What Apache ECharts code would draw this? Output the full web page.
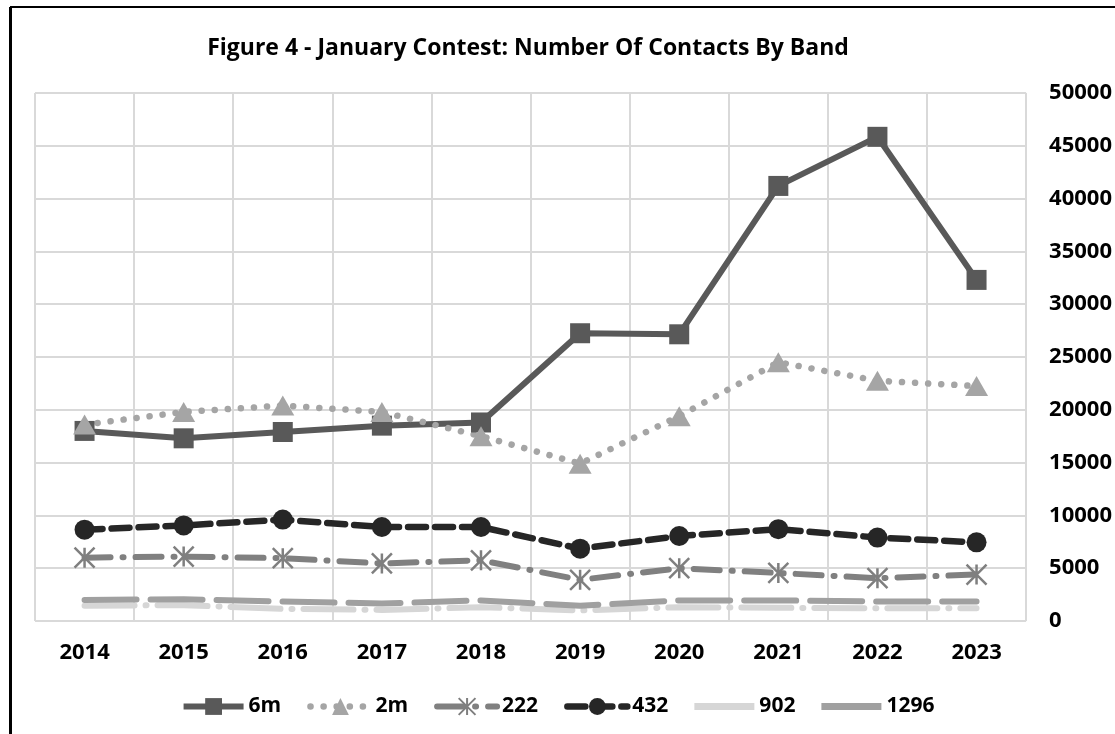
<!DOCTYPE html>
<html>
<head>
<meta charset="utf-8">
<script src="https://cdn.jsdelivr.net/npm/echarts@6/dist/echarts.min.js"></script>
<style>
html,body{margin:0;padding:0;background:#fff;}
#chart{width:1115px;height:734px;}
</style>
</head>
<body>
<div id="chart"></div>
<script>
var years = ['2014','2015','2016','2017','2018','2019','2020','2021','2022','2023'];
var band6m   = [18000,17300,17900,18500,18800,27250,27150,41200,45850,32300];
var band2m   = [18600,19800,20400,19800,17500,14900,19400,24500,22750,22250];
var band222  = [6000,6100,5950,5450,5750,3900,5000,4550,4050,4400];
var band432  = [8650,9050,9600,8900,8900,6850,8050,8700,7900,7450];
var band902  = [1450,1500,1150,1050,1300,1000,1300,1250,1200,1200];
var band1296 = [2000,2050,1850,1650,1950,1450,1950,1950,1850,1850];
var legendNames = ['6m','2m','222','432','902','1296'];

var FONT = 'Open Sans';
var chart = echarts.init(document.getElementById('chart'));
var asterisk = 'path://M0,0L20,20M20,0L0,20M10,0L10,20';
var bar = 'path://M0,0H60V7H0Z';

chart.setOption({
  animation:false,
  backgroundColor:'#ffffff',
  title:{
    text:'Figure 4 - January Contest: Number Of Contacts By Band',
    left:523, top:32, textAlign:'center',
    textStyle:{fontFamily:FONT, fontWeight:'bold', fontSize:23, color:'#000'}
  },
  graphic:[
    {type:'rect', shape:{x:11,y:7,width:1200,height:800}, style:{fill:'none',stroke:'#000',lineWidth:2}, z:-1},
    {type:'rect', shape:{x:9,y:7,width:3,height:800}, style:{fill:'#000'}, z:-1}
  ],
  legend:{
    bottom:12, left:'center',
    itemWidth:60, itemHeight:21, itemGap:26,
    symbolKeepAspect:true,
    lineStyle:{width:'inherit'},
    textStyle:{fontFamily:FONT, fontWeight:'bold', fontSize:21, color:'#000'},
    data:[
      {name:legendNames[0]},
      {name:legendNames[1]},
      {name:legendNames[2]},
      {name:legendNames[3]},
      {name:legendNames[4], icon:bar},
      {name:legendNames[5], icon:bar}
    ]
  },
  grid:{left:35, right:85, top:93, bottom:113, containLabel:false},
  xAxis:{
    type:'category', data:years, boundaryGap:true,
    axisLine:{show:false}, axisTick:{show:false},
    axisLabel:{fontFamily:FONT, fontWeight:'bold', fontSize:22, color:'#000', margin:21},
    splitLine:{show:true, lineStyle:{color:'#d9d9d9', width:2}}
  },
  yAxis:{
    type:'value', position:'right', min:0, max:50000, interval:5000,
    axisLine:{show:false}, axisTick:{show:false},
    axisLabel:{fontFamily:FONT, fontWeight:'bold', fontSize:22, color:'#000', margin:23,
      formatter:function(v){return String(v);}},
    splitLine:{show:true, lineStyle:{color:'#d9d9d9', width:2}}
  },
  series:[
    {name:'6m', type:'line', data:band6m, color:'#595959',
     symbol:'rect', symbolSize:20,
     lineStyle:{width:6, color:'#595959'}, itemStyle:{color:'#595959'}},
    {name:'2m', type:'line', data:band2m, color:'#a5a5a5',
     symbol:'triangle', symbolSize:[23,20],
     lineStyle:{width:6.5, color:'#a5a5a5', type:[0.1,13], cap:'round'}, itemStyle:{color:'#a5a5a5'}},
    {name:'222', type:'line', data:band222, color:'#7f7f7f',
     symbol:asterisk, symbolSize:20,
     lineStyle:{width:6, color:'#808080', type:[26,12,1,12], cap:'round'},
     itemStyle:{color:'#7f7f7f', borderColor:'#7f7f7f', borderWidth:2.5}},
    {name:'432', type:'line', data:band432, color:'#262626',
     symbol:'circle', symbolSize:20,
     lineStyle:{width:6.5, color:'#262626', type:[18,9], cap:'round'}, itemStyle:{color:'#262626'}},
    {name:'902', type:'line', data:band902, color:'#d6d6d6',
     showSymbol:false, symbol:'none',
     lineStyle:{width:6, color:'#d6d6d6', type:[50,11,1,11], cap:'round'}, itemStyle:{color:'#d6d6d6'}},
    {name:'1296', type:'line', data:band1296, color:'#a0a0a0',
     showSymbol:false, symbol:'none',
     lineStyle:{width:6, color:'#a0a0a0', type:[52,14], cap:'round'}, itemStyle:{color:'#a0a0a0'}}
  ]
});
</script>
</body>
</html>
